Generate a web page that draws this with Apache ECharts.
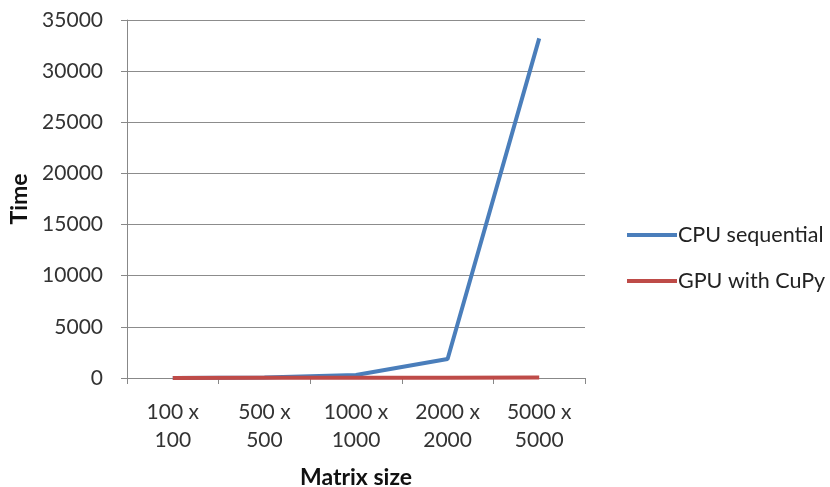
<!DOCTYPE html>
<html>
<head>
<meta charset="utf-8">
<script src="https://cdn.jsdelivr.net/npm/echarts@6/dist/echarts.min.js"></script>
<style>html,body{margin:0;padding:0;background:#fff;}#c{width:830px;height:487px;}</style>
</head>
<body>
<div id="c"></div>
<script>
const categories = ['100 x\n100', '500 x\n500', '1000 x\n1000', '2000 x\n2000', '5000 x\n5000'];
const cpuSequential = [5, 60, 300, 1860, 33200];
const gpuCuPy = [10, 15, 20, 30, 45];
const yTicks = { min: 0, max: 35000, interval: 5000 };

const font = 'Lato, "Open Sans", sans-serif';
const chart = echarts.init(document.getElementById('c'));
chart.setOption({
  animation: false,
  backgroundColor: '#fff',
  textStyle: { fontFamily: font },
  grid: { left: 127, right: 245, top: 20, bottom: 109, containLabel: false, outerBoundsMode: 'none' },
  legend: {
    orient: 'vertical',
    left: 622,
    top: 219,
    itemWidth: 50,
    itemHeight: 4,
    itemGap: 24,
    icon: 'rect',
    textStyle: { fontFamily: font, fontSize: 21.5, color: '#222', padding: [0, 0, 0, -4] },
    data: ['CPU sequential', 'GPU with CuPy']
  },
  xAxis: {
    type: 'category',
    data: categories,
    boundaryGap: true,
    name: 'Matrix size',
    nameLocation: 'middle',
    nameGap: 88,
    nameTextStyle: { fontFamily: font, fontSize: 23, fontWeight: 'bold', color: '#111' },
    axisLine: { lineStyle: { color: '#888', width: 1 } },
    axisTick: { show: true, length: 6, inside: false, lineStyle: { color: '#888' } },
    axisLabel: { fontFamily: font, fontSize: 21, color: '#333', lineHeight: 28, margin: 20 }
  },
  yAxis: {
    type: 'value',
    min: yTicks.min,
    max: yTicks.max,
    interval: yTicks.interval,
    name: 'Time',
    nameLocation: 'middle',
    nameGap: 91,
    nameRotate: 90,
    nameTextStyle: { fontFamily: font, fontSize: 23, fontWeight: 'bold', color: '#111' },
    axisLine: { show: true, lineStyle: { color: '#888', width: 1 } },
    axisTick: { show: true, length: 6, lineStyle: { color: '#888' } },
    axisLabel: { fontFamily: font, fontSize: 21, color: '#333', margin: 24, formatter: v => String(v) },
    splitLine: { show: true, lineStyle: { color: '#8c8c8c', width: 1 } }
  },
  series: [
    {
      name: 'CPU sequential',
      type: 'line',
      data: cpuSequential,
      symbol: 'none',
      color: '#4A7EBB',
      lineStyle: { width: 4, color: '#4A7EBB' },
      z: 3
    },
    {
      name: 'GPU with CuPy',
      type: 'line',
      data: gpuCuPy,
      symbol: 'none',
      color: '#BE4B48',
      lineStyle: { width: 4, color: '#BE4B48' },
      z: 4
    }
  ]
});
</script>
</body>
</html>
